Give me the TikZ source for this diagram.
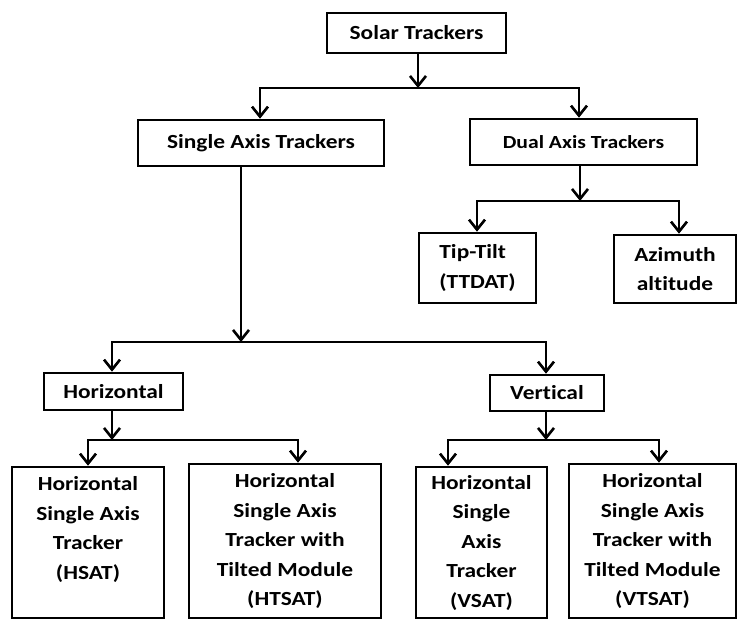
\documentclass[tikz,border=0pt]{standalone}
\usepackage{fontspec}
\setmainfont{Carlito}[FakeStretch=1.17, Ligatures=NoCommon]
\usetikzlibrary{arrows.meta}
\tikzset{
  box/.style={draw, rectangle, line width=2.6pt, inner sep=0pt, align=center,
    font=\fontsize{20}{29.5}\selectfont\bfseries},
  smallbox/.style={box, font=\fontsize{18.5}{26}\selectfont\bfseries},
  conn/.style={line width=2.6pt, -{Straight Barb[length=10pt,width=16pt]}},
  bus/.style={line width=2.6pt, line join=miter,
    {Straight Barb[length=10pt,width=16pt]}-{Straight Barb[length=10pt,width=16pt]}}
}
\begin{document}
\begin{tikzpicture}[x=1pt,y=-1pt]
\useasboundingbox (0,0) rectangle (737,619);
\clip (0,0) rectangle (737,619);

% level 1
\node[box, minimum width=179pt, minimum height=40pt] (solar) at (416.5,33) {Solar Trackers};

% level 2
\node[box, minimum width=246pt, minimum height=46pt] (single) at (261,143) {Single Axis Trackers};
\node[smallbox, minimum width=227pt, minimum height=46pt] (dual) at (583.5,142) {Dual Axis Trackers};

% dual children
\node[box, align=left, minimum width=117pt, minimum height=70pt] (tiptilt) at (477.5,268) {Tip-Tilt\\(TTDAT)};
\node[box, minimum width=122pt, minimum height=68pt] (azimuth) at (675,269) {Azimuth\\altitude};

% single children
\node[box, minimum width=139pt, minimum height=37pt] (horiz) at (113.5,391.5) {Horizontal};
\node[box, minimum width=114pt, minimum height=36pt] (vert) at (547,393) {Vertical};

% bottom row
\node[box, minimum width=152pt, minimum height=151pt] (hsat) at (88,542.5)
  {Horizontal\\Single Axis\\Tracker\\(HSAT)\\~};
\node[box, minimum width=192pt, minimum height=154pt] (htsat) at (285,541)
  {Horizontal\\Single Axis\\Tracker with\\Tilted Module\\(HTSAT)};
\node[box, minimum width=131pt, minimum height=151pt] (vsat) at (481.5,542.5)
  {Horizontal\\Single\\Axis\\Tracker\\(VSAT)};
\node[box, minimum width=167pt, minimum height=154pt] (vtsat) at (652.5,541)
  {Horizontal\\Single Axis\\Tracker with\\Tilted Module\\(VTSAT)};

% connectors: solar
\coordinate (t0) at (418,88);
\coordinate (t1) at (260,88);
\coordinate (t2) at (579,88);
\draw[conn] (t0 |- solar.south) -- (t0);
\draw[bus] (t1 |- single.north) -- (t1) -- (t2) -- (t2 |- dual.north);

% connectors: dual
\coordinate (d0) at (580,201);
\coordinate (d1) at (477,201);
\coordinate (d2) at (679,201);
\draw[conn] (d0 |- dual.south) -- (d0);
\draw[bus] (d1 |- tiptilt.north) -- (d1) -- (d2) -- (d2 |- azimuth.north);

% connectors: single
\coordinate (s0) at (241,342);
\coordinate (s1) at (112,342);
\coordinate (s2) at (546,342);
\draw[conn] (s0 |- single.south) -- (s0);
\draw[bus] (s1 |- horiz.north) -- (s1) -- (s2) -- (s2 |- vert.north);

% connectors: horizontal
\coordinate (h0) at (112,440);
\coordinate (h1) at (88,440);
\coordinate (h2) at (298,440);
\draw[conn] (h0 |- horiz.south) -- (h0);
\draw[bus] (h1 |- hsat.north) -- (h1) -- (h2) -- (h2 |- htsat.north);

% connectors: vertical
\coordinate (v0) at (546,440);
\coordinate (v1) at (448,440);
\coordinate (v2) at (659,440);
\draw[conn] (v0 |- vert.south) -- (v0);
\draw[bus] (v1 |- vsat.north) -- (v1) -- (v2) -- (v2 |- vtsat.north);
\end{tikzpicture}
\end{document}
